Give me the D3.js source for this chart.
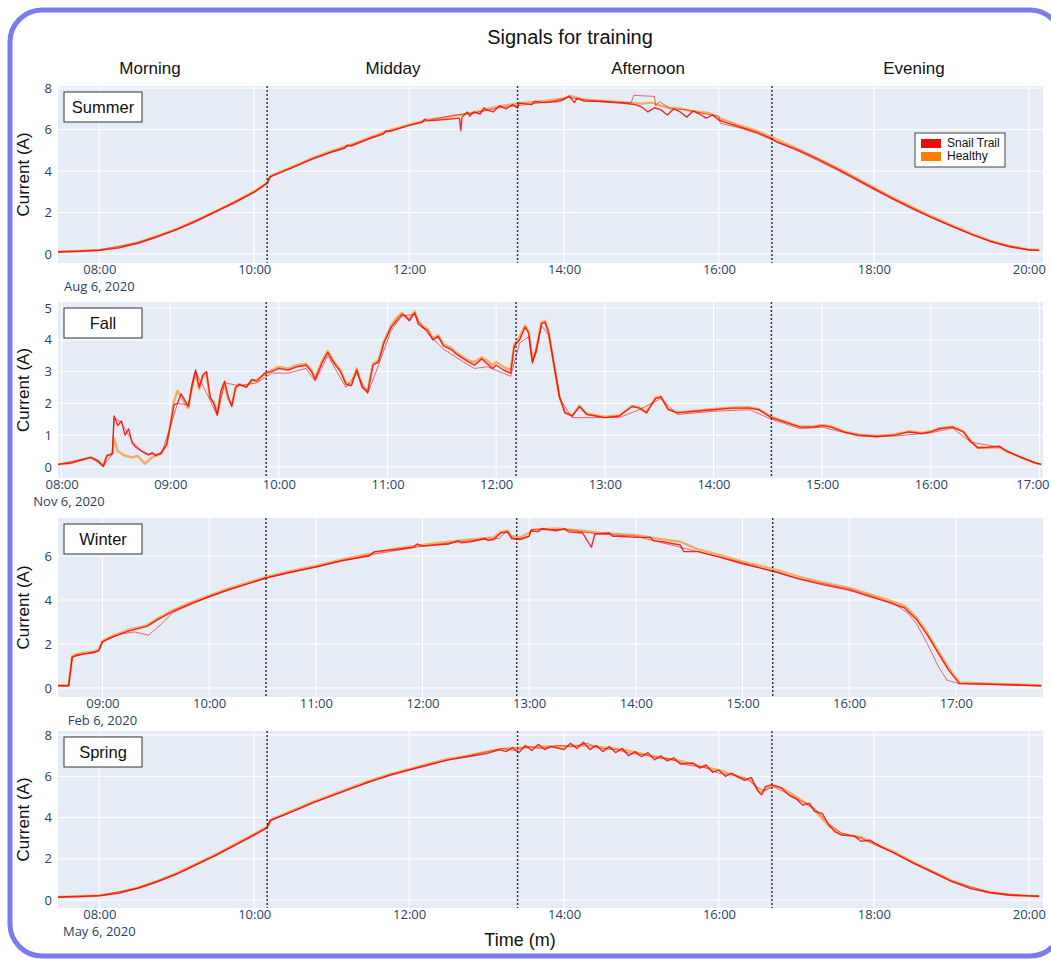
<!DOCTYPE html>
<html>
<head>
<meta charset="utf-8">
<script src="https://cdn.jsdelivr.net/npm/d3@7"></script>
<style>
  body { margin: 0; background: #fff; }
  svg { display: block; }
</style>
</head>
<body>
<div id="chart"></div>
<script>
'use strict';
// ---- data ----
const chartTitle = "Signals for training";
const phaseNames = ["Morning", "Midday", "Afternoon", "Evening"];
const seasonNames = ["Summer", "Fall", "Winter", "Spring"];
const dateLabels = ["Aug 6, 2020", "Nov 6, 2020", "Feb 6, 2020", "May 6, 2020"];
const legendNames = ["Snail Trail", "Healthy"];

const timeDomains = [["07:28", "20:11"], ["07:58", "17:02"], ["08:35", "17:49"], ["07:28", "20:11"]];
const valueDomains = [[-0.43, 8.1], [-0.35, 5.19], [-0.41, 7.73], [-0.39, 8.2]];
const xTicks = [
  ["08:00", "10:00", "12:00", "14:00", "16:00", "18:00", "20:00"],
  ["08:00", "09:00", "10:00", "11:00", "12:00", "13:00", "14:00", "15:00", "16:00", "17:00"],
  ["09:00", "10:00", "11:00", "12:00", "13:00", "14:00", "15:00", "16:00", "17:00"],
  ["08:00", "10:00", "12:00", "14:00", "16:00", "18:00", "20:00"]
];
const yTicks = [[0, 2, 4, 6, 8], [0, 1, 2, 3, 4, 5], [0, 2, 4, 6], [0, 2, 4, 6, 8]];
const phaseBreaks = [["10:10", "13:24", "16:41"], ["09:53", "12:11", "14:32"], ["10:32", "12:53", "15:17"], ["10:10", "13:24", "16:41"]];

// Summer
const summerHealthy = [["07:28",0.12],["07:45",0.15],["08:00",0.2],["08:15",0.33],["08:30",0.56],["08:45",0.87],["09:00",1.22],["09:15",1.62],["09:30",2.07],["09:45",2.52],["10:00",3.02],["10:10",3.42],["10:13",3.78],["10:30",4.22],["10:45",4.62],["11:00",4.97],["11:15",5.28],["11:30",5.63],["11:45",5.97],["12:00",6.24],["12:15",6.48],["12:30",6.6],["12:50",6.82],["13:00",6.98],["13:10",7.12],["13:20",7.22],["13:30",7.3],["13:45",7.38],["14:00",7.5],["14:05",7.62],["14:15",7.45],["14:30",7.38],["14:45",7.32],["15:00",7.25],["15:08",7.3],["15:15",7.15],["15:22",7.05],["15:30",7.02],["15:38",6.9],["15:45",6.85],["15:52",6.8],["16:00",6.55],["16:15",6.22],["16:30",5.92],["16:41",5.62],["17:00",5.1],["17:15",4.65],["17:30",4.2],["17:45",3.7],["18:00",3.2],["18:15",2.7],["18:30",2.25],["18:45",1.8],["19:00",1.4],["19:15",1.0],["19:30",0.65],["19:45",0.38],["20:00",0.22],["20:08",0.2]];
const summerSnail = [["07:28",0.1],["07:45",0.13],["08:00",0.18],["08:15",0.3],["08:30",0.52],["08:45",0.83],["09:00",1.18],["09:15",1.58],["09:30",2.03],["09:45",2.48],["10:00",2.98],["10:10",3.4],["10:12",3.72],["10:30",4.18],["10:45",4.58],["11:00",4.92],["11:10",5.1],["11:12",5.25],["11:15",5.2],["11:30",5.58],["11:40",5.78],["11:42",5.95],["11:45",5.9],["12:00",6.2],["12:10",6.35],["12:12",6.5],["12:15",6.42],["12:30",6.5],["12:39",6.55],["12:40",5.95],["12:41",6.6],["12:45",6.85],["12:47",6.65],["12:50",6.85],["12:55",6.75],["12:58",7.05],["13:00",6.95],["13:05",6.85],["13:10",7.15],["13:15",7.0],["13:20",7.2],["13:24",7.05],["13:25",7.28],["13:35",7.2],["13:37",7.35],["13:45",7.3],["13:55",7.35],["14:00",7.45],["14:04",7.62],["14:08",7.3],["14:10",7.5],["14:15",7.38],["14:30",7.35],["14:45",7.28],["14:55",7.2],["15:00",7.1],["15:05",6.85],["15:10",7.05],["15:15",6.95],["15:20",6.7],["15:25",7.0],["15:30",6.85],["15:35",6.6],["15:40",6.9],["15:45",6.75],["15:50",6.55],["15:55",6.7],["16:00",6.45],["16:05",6.35],["16:15",6.15],["16:30",5.85],["16:41",5.55],["16:45",5.4],["17:00",5.05],["17:15",4.62],["17:30",4.15],["17:45",3.66],["18:00",3.15],["18:15",2.66],["18:30",2.2],["18:45",1.76],["19:00",1.36],["19:15",0.96],["19:30",0.62],["19:45",0.35],["20:00",0.2],["20:08",0.18]];
const summerSnail2 = [["07:28",0.12],["08:00",0.2],["08:30",0.55],["09:00",1.2],["09:30",2.05],["10:00",3.0],["10:10",3.45],["10:12",3.7],["10:45",4.6],["11:15",5.25],["11:45",5.95],["12:15",6.45],["12:35",6.7],["12:50",6.8],["13:10",7.05],["13:30",7.2],["13:50",7.35],["14:03",7.55],["14:20",7.4],["14:40",7.3],["14:52",7.3],["14:54",7.65],["15:10",7.6],["15:11",7.15],["15:14",7.35],["15:22",7.0],["15:35",6.95],["15:50",6.75],["16:00",6.65],["16:01",6.3],["16:15",6.1],["16:30",5.8],["16:41",5.5],["17:00",5.0],["17:30",4.1],["18:00",3.1],["18:30",2.15],["19:00",1.33],["19:30",0.6],["20:00",0.2],["20:08",0.18]];

// Fall
const fallHealthy = [["07:58",0.08],["08:05",0.12],["08:16",0.3],["08:20",0.2],["08:23",0.02],["08:25",0.35],["08:28",0.4],["08:29",0.9],["08:31",0.5],["08:35",0.35],["08:39",0.3],["08:42",0.35],["08:46",0.1],["08:50",0.3],["08:55",0.42],["08:58",0.7],["09:00",1.3],["09:02",2.05],["09:04",2.4],["09:06",2.2],["09:08",2.0],["09:10",1.85],["09:12",2.5],["09:14",2.95],["09:16",2.45],["09:18",2.85],["09:20",2.95],["09:22",2.15],["09:24",2.05],["09:26",1.7],["09:28",2.3],["09:30",2.6],["09:32",2.15],["09:34",1.95],["09:36",2.45],["09:38",2.6],["09:42",2.55],["09:45",2.7],["09:48",2.75],["09:52",2.9],["09:56",3.05],["10:00",3.15],["10:05",3.1],["10:10",3.2],["10:15",3.25],["10:18",3.05],["10:20",2.8],["10:24",3.35],["10:27",3.65],["10:30",3.35],["10:34",3.05],["10:37",2.65],["10:40",2.6],["10:43",3.1],["10:46",2.55],["10:49",2.4],["10:52",3.25],["10:55",3.35],["10:58",3.95],["11:02",4.45],["11:05",4.7],["11:08",4.85],["11:10",4.7],["11:12",4.65],["11:15",4.9],["11:17",4.55],["11:19",4.45],["11:22",4.35],["11:25",4.05],["11:28",4.15],["11:31",3.85],["11:35",3.75],["11:38",3.6],["11:42",3.45],["11:45",3.35],["11:48",3.3],["11:52",3.45],["11:55",3.35],["11:58",3.2],["12:00",3.3],["12:04",3.15],["12:08",3.05],["12:10",3.85],["12:13",4.1],["12:16",4.45],["12:18",4.25],["12:20",3.35],["12:22",3.65],["12:25",4.55],["12:27",4.6],["12:29",4.25],["12:32",3.2],["12:35",2.2],["12:38",1.72],["12:42",1.62],["12:46",1.92],["12:50",1.68],["12:55",1.62],["13:00",1.58],["13:08",1.62],["13:15",1.92],["13:19",1.88],["13:23",1.72],["13:28",2.18],["13:31",2.22],["13:35",1.82],["13:40",1.72],["13:50",1.77],["14:00",1.82],["14:10",1.86],["14:20",1.88],["14:25",1.82],["14:32",1.57],["14:40",1.42],["14:48",1.27],["14:55",1.27],["15:00",1.32],["15:05",1.27],["15:12",1.12],["15:20",1.02],["15:30",0.97],["15:40",1.02],["15:48",1.12],["15:55",1.07],["16:00",1.12],["16:05",1.22],["16:12",1.27],["16:18",1.12],["16:22",0.82],["16:26",0.6],["16:32",0.6],["16:38",0.62],["16:42",0.48],["16:50",0.3],["16:58",0.12],["17:01",0.08]];
const fallSnail = [["07:58",0.08],["08:05",0.12],["08:16",0.3],["08:20",0.2],["08:23",0.02],["08:25",0.35],["08:28",0.42],["08:29",1.6],["08:31",1.3],["08:33",1.45],["08:35",1.0],["08:37",1.2],["08:39",0.75],["08:41",0.62],["08:44",0.5],["08:46",0.45],["08:48",0.38],["08:50",0.45],["08:52",0.35],["08:55",0.45],["08:58",0.7],["09:00",1.3],["09:02",1.95],["09:04",2.0],["09:06",2.3],["09:08",2.1],["09:10",1.9],["09:12",2.6],["09:14",3.05],["09:16",2.5],["09:18",2.9],["09:20",3.0],["09:22",2.2],["09:24",2.0],["09:26",1.65],["09:28",2.4],["09:30",2.7],["09:32",2.2],["09:34",1.9],["09:36",2.5],["09:38",2.6],["09:42",2.5],["09:45",2.75],["09:48",2.7],["09:52",2.95],["09:56",3.0],["10:00",3.1],["10:05",3.05],["10:10",3.15],["10:15",3.2],["10:18",3.0],["10:20",2.75],["10:24",3.3],["10:27",3.6],["10:30",3.3],["10:34",3.0],["10:37",2.6],["10:40",2.55],["10:43",3.05],["10:46",2.5],["10:49",2.35],["10:52",3.2],["10:55",3.3],["10:58",3.9],["11:02",4.4],["11:05",4.6],["11:08",4.8],["11:10",4.75],["11:12",4.6],["11:15",4.85],["11:17",4.5],["11:19",4.4],["11:22",4.3],["11:25",4.0],["11:28",4.1],["11:31",3.8],["11:35",3.7],["11:38",3.55],["11:42",3.4],["11:45",3.3],["11:48",3.2],["11:52",3.4],["11:55",3.25],["11:58",3.1],["12:00",3.2],["12:04",3.05],["12:08",2.95],["12:10",3.8],["12:13",4.0],["12:16",4.4],["12:18",4.2],["12:20",3.3],["12:22",3.6],["12:25",4.5],["12:27",4.55],["12:29",4.2],["12:32",3.2],["12:35",2.2],["12:38",1.7],["12:42",1.6],["12:46",1.9],["12:50",1.65],["12:55",1.6],["13:00",1.55],["13:08",1.6],["13:15",1.9],["13:19",1.85],["13:23",1.7],["13:28",2.15],["13:31",2.2],["13:35",1.8],["13:40",1.7],["13:50",1.75],["14:00",1.8],["14:10",1.85],["14:20",1.85],["14:25",1.8],["14:32",1.55],["14:40",1.4],["14:48",1.25],["14:55",1.25],["15:00",1.3],["15:05",1.25],["15:12",1.1],["15:20",1.0],["15:30",0.95],["15:40",1.0],["15:48",1.1],["15:55",1.05],["16:00",1.1],["16:05",1.2],["16:12",1.25],["16:18",1.1],["16:22",0.8],["16:26",0.6],["16:32",0.62],["16:38",0.65],["16:42",0.5],["16:50",0.3],["16:58",0.12],["17:01",0.08]];
const fallSnail2 = [["07:58",0.08],["08:16",0.3],["08:23",0.02],["08:28",0.4],["08:29",1.55],["08:33",1.4],["08:39",0.8],["08:46",0.4],["08:55",0.4],["09:00",1.25],["09:04",2.0],["09:10",1.95],["09:14",3.0],["09:22",2.1],["09:26",1.6],["09:30",2.65],["09:38",2.55],["09:48",2.65],["09:56",2.95],["10:05",2.95],["10:15",3.1],["10:20",2.7],["10:27",3.5],["10:37",2.5],["10:43",2.95],["10:49",2.3],["10:55",3.2],["11:02",4.3],["11:08",4.75],["11:15",4.8],["11:22",4.2],["11:31",3.7],["11:42",3.3],["11:48",3.1],["11:55",3.15],["12:04",2.95],["12:08",2.85],["12:13",3.9],["12:18",4.1],["12:20",3.25],["12:25",4.45],["12:29",4.15],["12:35",2.15],["12:42",1.55],["12:55",1.55],["13:08",1.55],["13:19",1.8],["13:31",2.15],["13:40",1.65],["14:00",1.75],["14:20",1.8],["14:32",1.5],["14:48",1.2],["15:00",1.25],["15:20",0.97],["15:40",0.97],["16:00",1.07],["16:12",1.22],["16:22",0.78],["16:38",0.62],["16:50",0.28],["17:01",0.08]];

// Winter
const winterHealthy = [["08:35",0.12],["08:41",0.12],["08:43",1.45],["08:46",1.55],["08:50",1.6],["08:55",1.65],["08:58",1.75],["09:00",2.15],["09:05",2.35],["09:10",2.5],["09:15",2.65],["09:20",2.75],["09:25",2.85],["09:32",3.2],["09:40",3.55],["09:50",3.9],["10:00",4.2],["10:10",4.5],["10:20",4.75],["10:32",5.05],["10:45",5.3],["11:00",5.55],["11:15",5.85],["11:30",6.1],["11:45",6.35],["12:00",6.5],["12:15",6.65],["12:27",6.75],["12:40",6.85],["12:44",7.1],["12:48",7.15],["12:50",6.9],["12:55",6.85],["13:00",7.05],["13:02",7.2],["13:15",7.25],["13:30",7.15],["13:40",7.05],["13:50",7.0],["14:00",6.95],["14:15",6.75],["14:25",6.65],["14:35",6.3],["14:47",6.05],["15:00",5.75],["15:10",5.55],["15:20",5.35],["15:32",5.05],["15:45",4.8],["16:00",4.55],["16:10",4.3],["16:20",4.05],["16:31",3.75],["16:38",3.2],["16:44",2.5],["16:50",1.7],["16:56",0.9],["17:02",0.25],["17:20",0.2],["17:48",0.12]];
const winterSnail = [["08:35",0.1],["08:41",0.1],["08:43",1.4],["08:46",1.5],["08:50",1.55],["08:55",1.6],["08:58",1.7],["09:00",2.1],["09:05",2.3],["09:10",2.45],["09:15",2.6],["09:20",2.7],["09:25",2.8],["09:32",3.15],["09:40",3.5],["09:50",3.85],["10:00",4.15],["10:10",4.45],["10:20",4.7],["10:32",5.0],["10:45",5.25],["11:00",5.5],["11:15",5.8],["11:30",6.0],["11:33",6.2],["11:45",6.3],["11:55",6.4],["11:57",6.55],["12:00",6.45],["12:15",6.55],["12:20",6.7],["12:22",6.6],["12:27",6.65],["12:35",6.8],["12:37",6.7],["12:40",6.75],["12:44",7.05],["12:48",7.1],["12:50",6.8],["12:55",6.75],["13:00",6.9],["13:01",7.15],["13:05",7.1],["13:07",7.25],["13:15",7.15],["13:20",7.25],["13:22",7.1],["13:30",7.05],["13:35",6.4],["13:37",7.0],["13:45",7.05],["13:47",6.9],["13:50",6.9],["14:00",6.85],["14:08",6.85],["14:10",6.7],["14:15",6.65],["14:25",6.5],["14:27",6.2],["14:35",6.2],["14:47",5.95],["15:00",5.65],["15:10",5.45],["15:20",5.25],["15:32",4.95],["15:45",4.7],["16:00",4.45],["16:10",4.2],["16:20",3.95],["16:31",3.65],["16:38",3.1],["16:44",2.4],["16:50",1.6],["16:56",0.8],["17:02",0.2],["17:20",0.17],["17:48",0.1]];
const winterSnail2 = [["08:35",0.1],["08:41",0.1],["08:43",1.4],["08:50",1.55],["08:58",1.7],["09:00",2.1],["09:10",2.45],["09:18",2.55],["09:26",2.4],["09:33",2.9],["09:40",3.45],["10:00",4.15],["10:32",5.0],["11:00",5.5],["11:30",6.05],["12:00",6.45],["12:27",6.7],["12:43",6.8],["12:47",7.1],["12:52",6.75],["13:00",6.9],["13:01",7.2],["13:20",7.2],["13:40",7.0],["14:00",6.9],["14:30",6.3],["15:00",5.7],["15:30",5.0],["16:00",4.5],["16:25",3.85],["16:33",3.4],["16:38",2.9],["16:44",2.0],["16:50",1.0],["16:55",0.35],["17:02",0.2],["17:48",0.1]];

// Spring
const springHealthy = [["07:28",0.15],["07:45",0.18],["08:00",0.22],["08:15",0.35],["08:30",0.6],["08:45",0.92],["09:00",1.3],["09:15",1.75],["09:30",2.2],["09:45",2.7],["10:00",3.2],["10:10",3.55],["10:13",3.9],["10:30",4.35],["10:45",4.75],["11:00",5.1],["11:15",5.45],["11:30",5.8],["11:45",6.1],["12:00",6.35],["12:15",6.6],["12:30",6.85],["12:45",7.0],["13:00",7.2],["13:15",7.35],["13:30",7.4],["13:45",7.45],["14:00",7.45],["14:15",7.5],["14:30",7.4],["14:45",7.3],["15:00",7.1],["15:15",6.9],["15:30",6.75],["15:45",6.5],["16:00",6.3],["16:15",6.0],["16:25",5.8],["16:32",5.2],["16:41",5.55],["16:50",5.4],["17:00",5.0],["17:10",4.6],["17:15",4.3],["17:25",3.6],["17:35",3.2],["17:50",3.05],["18:00",2.75],["18:15",2.35],["18:30",1.85],["18:45",1.4],["19:00",0.95],["19:15",0.6],["19:30",0.38],["19:45",0.25],["20:00",0.2],["20:08",0.18]];
const springSnail = [["07:28",0.13],["07:45",0.16],["08:00",0.2],["08:15",0.33],["08:30",0.57],["08:45",0.88],["09:00",1.25],["09:15",1.7],["09:30",2.15],["09:45",2.65],["10:00",3.15],["10:10",3.5],["10:12",3.85],["10:30",4.3],["10:45",4.7],["11:00",5.05],["11:15",5.4],["11:30",5.75],["11:45",6.05],["12:00",6.3],["12:15",6.55],["12:30",6.8],["12:45",6.95],["13:00",7.1],["13:10",7.3],["13:15",7.2],["13:20",7.4],["13:25",7.15],["13:30",7.5],["13:35",7.25],["13:40",7.55],["13:45",7.3],["13:50",7.45],["14:00",7.3],["14:05",7.6],["14:10",7.35],["14:15",7.65],["14:20",7.3],["14:25",7.5],["14:30",7.2],["14:35",7.45],["14:40",7.15],["14:45",7.35],["14:50",7.0],["14:55",7.2],["15:00",6.95],["15:05",7.15],["15:10",6.8],["15:15",7.0],["15:20",6.75],["15:25",6.9],["15:30",6.6],["15:40",6.65],["15:45",6.4],["15:50",6.55],["15:55",6.2],["16:00",6.3],["16:05",6.0],["16:10",6.15],["16:15",5.95],["16:20",5.8],["16:25",5.95],["16:30",5.3],["16:33",5.1],["16:36",5.5],["16:41",5.6],["16:48",5.45],["16:55",5.05],["17:00",4.9],["17:05",4.6],["17:10",4.7],["17:14",4.3],["17:20",4.2],["17:25",3.65],["17:30",3.3],["17:35",3.15],["17:45",3.1],["17:50",2.85],["17:57",2.9],["18:05",2.6],["18:15",2.3],["18:30",1.8],["18:45",1.35],["19:00",0.9],["19:15",0.55],["19:30",0.35],["19:45",0.23],["20:00",0.2],["20:08",0.18]];
const springSnail2 = [["07:28",0.15],["08:00",0.22],["08:30",0.58],["09:00",1.28],["09:30",2.18],["10:00",3.18],["10:10",3.52],["10:13",3.85],["10:45",4.72],["11:15",5.42],["11:45",6.08],["12:15",6.58],["12:45",6.98],["13:12",7.35],["13:22",7.25],["13:32",7.45],["13:42",7.35],["13:55",7.5],["14:08",7.45],["14:18",7.6],["14:28",7.35],["14:40",7.3],["14:52",7.1],["15:02",7.05],["15:12",6.9],["15:22",6.85],["15:35",6.55],["15:48",6.45],["16:00",6.15],["16:12",6.05],["16:22",5.85],["16:30",5.45],["16:35",5.3],["16:42",5.5],["16:55",5.1],["17:05",4.75],["17:15",4.4],["17:25",3.7],["17:35",3.25],["17:50",3.0],["18:00",2.7],["18:15",2.3],["18:30",1.82],["18:45",1.38],["19:00",0.92],["19:30",0.36],["20:00",0.2],["20:08",0.18]];

const seasonSeries = [
  { snail: [summerSnail, summerSnail2], healthy: [summerHealthy] },
  { snail: [fallSnail, fallSnail2], healthy: [fallHealthy] },
  { snail: [winterSnail, winterSnail2], healthy: [winterHealthy] },
  { snail: [springSnail, springSnail2], healthy: [springHealthy] }
];

// ---- layout ----
const width = 1051, height = 960;
const plotLeft = 58, plotRight = 1043;
const panelTops = [86, 302, 518, 731];
const panelBottoms = [263, 478, 697, 908];
const phaseLabelX = [150, 393, 648, 914];
const snailColor = "#f00a0a", healthyColor = "#ff8000";
const tickColor = "#2a3f5f";
const tickFont = "'Open Sans', 'Liberation Sans', Arial, sans-serif";
const textFont = "'Liberation Sans', Arial, sans-serif";

const parseTime = d3.timeParse("%H:%M");

const svg = d3.select("#chart").append("svg")
  .attr("width", width)
  .attr("height", height);

// rounded frame
svg.append("rect")
  .attr("x", 10).attr("y", 10)
  .attr("width", 1052).attr("height", 946)
  .attr("rx", 32).attr("ry", 32)
  .attr("fill", "none")
  .attr("stroke", "#7b7bf0")
  .attr("stroke-width", 5);

svg.append("text")
  .attr("x", 570).attr("y", 44)
  .attr("text-anchor", "middle")
  .attr("font-family", textFont)
  .attr("font-size", "20px")
  .attr("fill", "#111")
  .text(chartTitle);

phaseNames.forEach(function (name, i) {
  svg.append("text")
    .attr("x", phaseLabelX[i]).attr("y", 74)
    .attr("text-anchor", "middle")
    .attr("font-family", textFont)
    .attr("font-size", "17px")
    .attr("fill", "#111")
    .text(name);
});

seasonNames.forEach(function (season, i) {
  let top = panelTops[i], bottom = panelBottoms[i];
  let x = d3.scaleTime()
    .domain(timeDomains[i].map(parseTime))
    .range([plotLeft, plotRight]);
  let y = d3.scaleLinear()
    .domain(valueDomains[i])
    .range([bottom, top]);

  let panel = svg.append("g");

  panel.append("rect")
    .attr("x", plotLeft).attr("y", top)
    .attr("width", plotRight - plotLeft).attr("height", bottom - top)
    .attr("fill", "#e5ecf6");

  // grid
  panel.selectAll(".vgrid")
    .data(xTicks[i])
    .enter().append("line")
    .attr("x1", function (d) { return x(parseTime(d)); })
    .attr("x2", function (d) { return x(parseTime(d)); })
    .attr("y1", top).attr("y2", bottom)
    .attr("stroke", "#fff").attr("stroke-width", 1);
  panel.selectAll(".hgrid")
    .data(yTicks[i])
    .enter().append("line")
    .attr("x1", plotLeft).attr("x2", plotRight)
    .attr("y1", function (d) { return y(d); })
    .attr("y2", function (d) { return y(d); })
    .attr("stroke", "#fff").attr("stroke-width", 1);

  // axes (labels only, plotly style)
  let xAxis = d3.axisBottom(x)
    .tickValues(xTicks[i].map(parseTime))
    .tickFormat(d3.timeFormat("%H:%M"))
    .tickSize(0).tickPadding(2);
  let gx = panel.append("g")
    .attr("transform", "translate(0," + bottom + ")")
    .call(xAxis);
  let yAxis = d3.axisLeft(y)
    .tickValues(yTicks[i])
    .tickFormat(d3.format("d"))
    .tickSize(0).tickPadding(6);
  let gy = panel.append("g")
    .attr("transform", "translate(" + plotLeft + ",0)")
    .call(yAxis);
  [gx, gy].forEach(function (g) {
    g.select(".domain").remove();
    g.selectAll("text")
      .attr("font-family", tickFont)
      .attr("font-size", "13px")
      .attr("fill", tickColor);
  });
  // keep the last time label inside the picture
  gx.selectAll("text").each(function (d) {
    let w = this.getComputedTextLength();
    let over = x(d) + w / 2 - (width - 2);
    if (over > 0) d3.select(this).attr("dx", -over);
  });

  let firstTickX = x(parseTime(xTicks[i][0]));
  panel.append("text")
    .attr("x", Math.max(firstTickX, 69))
    .attr("y", bottom + 28)
    .attr("text-anchor", "middle")
    .attr("font-family", tickFont)
    .attr("font-size", "13px")
    .attr("fill", tickColor)
    .text(dateLabels[i]);

  panel.append("text")
    .attr("transform", "translate(29," + ((top + bottom) / 2) + ") rotate(-90)")
    .attr("text-anchor", "middle")
    .attr("font-family", textFont)
    .attr("font-size", "17px")
    .attr("fill", "#111")
    .text("Current (A)");

  // signal lines
  let clipId = "clip" + i;
  svg.append("clipPath").attr("id", clipId)
    .append("rect")
    .attr("x", plotLeft).attr("y", top)
    .attr("width", plotRight - plotLeft).attr("height", bottom - top);

  let line = d3.line()
    .x(function (d) { return x(parseTime(d[0])); })
    .y(function (d) { return y(d[1]); });

  let lines = panel.append("g").attr("clip-path", "url(#" + clipId + ")");
  seasonSeries[i].healthy.forEach(function (s) {
    lines.append("path")
      .attr("d", line(s))
      .attr("fill", "none")
      .attr("stroke", healthyColor)
      .attr("stroke-opacity", 0.6)
      .attr("stroke-width", 2.4)
      .attr("stroke-linejoin", "round");
  });
  seasonSeries[i].snail.forEach(function (s, k) {
    lines.append("path")
      .attr("d", line(s))
      .attr("fill", "none")
      .attr("stroke", snailColor)
      .attr("stroke-opacity", k === 0 ? 0.85 : 0.6)
      .attr("stroke-width", k === 0 ? 1.4 : 1)
      .attr("stroke-linejoin", "round");
  });

  // phase boundaries
  panel.selectAll(".phase")
    .data(phaseBreaks[i])
    .enter().append("line")
    .attr("x1", function (d) { return x(parseTime(d)); })
    .attr("x2", function (d) { return x(parseTime(d)); })
    .attr("y1", top).attr("y2", bottom)
    .attr("stroke", "#333")
    .attr("stroke-width", 1.5)
    .attr("stroke-dasharray", "2,2");

  // season label box
  panel.append("rect")
    .attr("x", 64).attr("y", top + 6)
    .attr("width", 78).attr("height", 30)
    .attr("fill", "#fff")
    .attr("stroke", "#333")
    .attr("stroke-width", 1);
  panel.append("text")
    .attr("x", 103).attr("y", top + 27)
    .attr("text-anchor", "middle")
    .attr("font-family", textFont)
    .attr("font-size", "16.5px")
    .attr("fill", "#111")
    .text(season);
});

// x title
svg.append("text")
  .attr("x", 520).attr("y", 946)
  .attr("text-anchor", "middle")
  .attr("font-family", textFont)
  .attr("font-size", "18px")
  .attr("fill", "#111")
  .text("Time (m)");

// legend
let legend = svg.append("g").attr("transform", "translate(915,133)");
legend.append("rect")
  .attr("width", 90).attr("height", 34)
  .attr("fill", "#fff")
  .attr("stroke", "#444")
  .attr("stroke-width", 1);
[snailColor, healthyColor].forEach(function (c, k) {
  legend.append("rect")
    .attr("x", 6).attr("y", 6 + k * 13)
    .attr("width", 20).attr("height", 9)
    .attr("fill", c);
  legend.append("text")
    .attr("x", 32).attr("y", 14 + k * 13)
    .attr("font-family", textFont)
    .attr("font-size", "12px")
    .attr("fill", "#111")
    .text(legendNames[k]);
});
</script>
</body>
</html>
